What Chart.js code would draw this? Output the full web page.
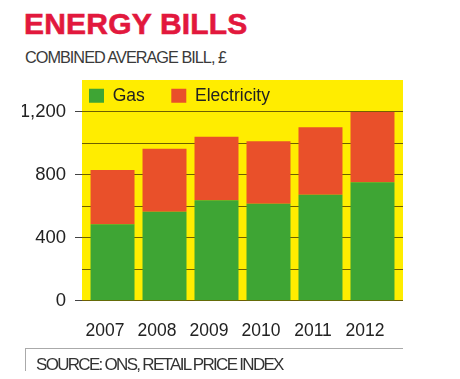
<!DOCTYPE html>
<html><head><meta charset="utf-8">
<script src="https://cdn.jsdelivr.net/npm/chart.js@4"></script>
<style>
html,body{margin:0;padding:0;background:#fff;}
#wrap{position:relative;width:460px;height:379px;overflow:hidden;font-family:'Liberation Sans',Arial,sans-serif;}
#c{position:absolute;left:0;top:0;}
.t{position:absolute;white-space:nowrap;line-height:1;}
#title{left:24px;top:8.8px;font-size:30px;font-weight:bold;color:#e2183d;letter-spacing:0.2px;-webkit-text-stroke:0.6px #e2183d;}
#sub{left:25px;top:48.5px;font-size:16.3px;color:#3a3a3a;letter-spacing:-1.0px;}
#src{left:36px;top:356.3px;font-size:17px;color:#333;letter-spacing:-1.7px;}
#hl{position:absolute;left:25px;top:348px;width:378px;height:1px;background:#aaa;}
#vl{position:absolute;left:25px;top:348px;width:1px;height:23px;background:#aaa;}
</style></head>
<body><div id="wrap">
<div class="t" id="title">ENERGY BILLS</div>
<div class="t" id="sub">COMBINED AVERAGE BILL, £</div>
<canvas id="c" width="460" height="379"></canvas>
<div id="hl"></div><div id="vl"></div>
<div class="t" id="src">SOURCE: ONS, RETAIL PRICE INDEX</div>
</div>
<script>
const years = ['2007', '2008', '2009', '2010', '2011', '2012'];
const gas = [485, 565, 637, 616, 673, 752];
const electricity = [345, 400, 404, 396, 428, 448];
const yTickLabels = [0, 400, 800, 1200];
const seriesNames = ['Gas', 'Electricity'];

const GREEN = '#3ea534', ORANGE = '#e9502a', YELLOW = '#ffed00', GRID = '#6e5f00';
const xPad = 0.087;

Chart.defaults.font.family = "'Liberation Sans', Arial, sans-serif";

// yellow panel behind legend + plot area
const yellowBg = {
  id: 'yellowBg',
  beforeDraw(chart) {
    const {ctx, chartArea: a, legend} = chart;
    const top = legend ? legend.top : a.top;
    ctx.save();
    ctx.fillStyle = YELLOW;
    ctx.fillRect(a.left, top, a.right - a.left, a.bottom - top);
    ctx.restore();
  }
};

new Chart(document.getElementById('c'), {
  type: 'bar',
  data: {
    datasets: [
      {label: seriesNames[0], data: years.map((_, i) => ({x: i, y: gas[i]})), backgroundColor: GREEN, borderWidth: 0},
      {label: seriesNames[1], data: years.map((_, i) => ({x: i, y: electricity[i]})), backgroundColor: ORANGE, borderWidth: 0}
    ]
  },
  options: {
    responsive: false,
    animation: false,
    layout: {padding: {left: 22, right: 57, top: 80, bottom: 38.3}},
    datasets: {bar: {barPercentage: 0.846, categoryPercentage: 1}},
    plugins: {
      tooltip: {enabled: false},
      legend: {
        position: 'top',
        align: 'start',
        fullSize: false,
        maxHeight: 31.7,
        labels: {
          boxWidth: 15, boxHeight: 14, padding: 7, color: '#222', font: {size: 17.5},
          generateLabels: chart => Chart.defaults.plugins.legend.labels.generateLabels(chart)
            .map((it, i) => i === 0 ? Object.assign(it, {text: it.text + '\u00a0\u00a0\u00a0\u00a0'}) : it)
        }
      }
    },
    scales: {
      x: {
        type: 'linear', stacked: true, offset: false,
        min: -0.5 - xPad, max: years.length - 0.5 + xPad,
        afterBuildTicks: s => { s.ticks = years.map((_, i) => ({value: i})); },
        afterFit: s => { s.height = 40; },
        grid: {display: false, offset: false},
        border: {display: false},
        ticks: {callback: v => years[v], labelOffset: -7.5, padding: 12, color: '#222', font: {size: 17.5}, maxRotation: 0, autoSkip: false}
      },
      y: {
        stacked: true, min: 0, max: 1200,
        afterFit: s => { s.width = 60; },
        border: {display: false},
        grid: {
          color: GRID,
          lineWidth: 1,
          tickLength: 13,
          tickColor: c => c.tick && yTickLabels.includes(c.tick.value) ? '#444' : 'rgba(0,0,0,0)',
          tickBorderDash: [0, 6, 7, 20]
        },
        ticks: {
          stepSize: 200, padding: 3, color: '#222', font: {size: 18.5},
          callback: v => yTickLabels.includes(v) ? v.toLocaleString('en-GB') : ''
        }
      }
    }
  },
  plugins: [yellowBg]
});
</script>
</body></html>
